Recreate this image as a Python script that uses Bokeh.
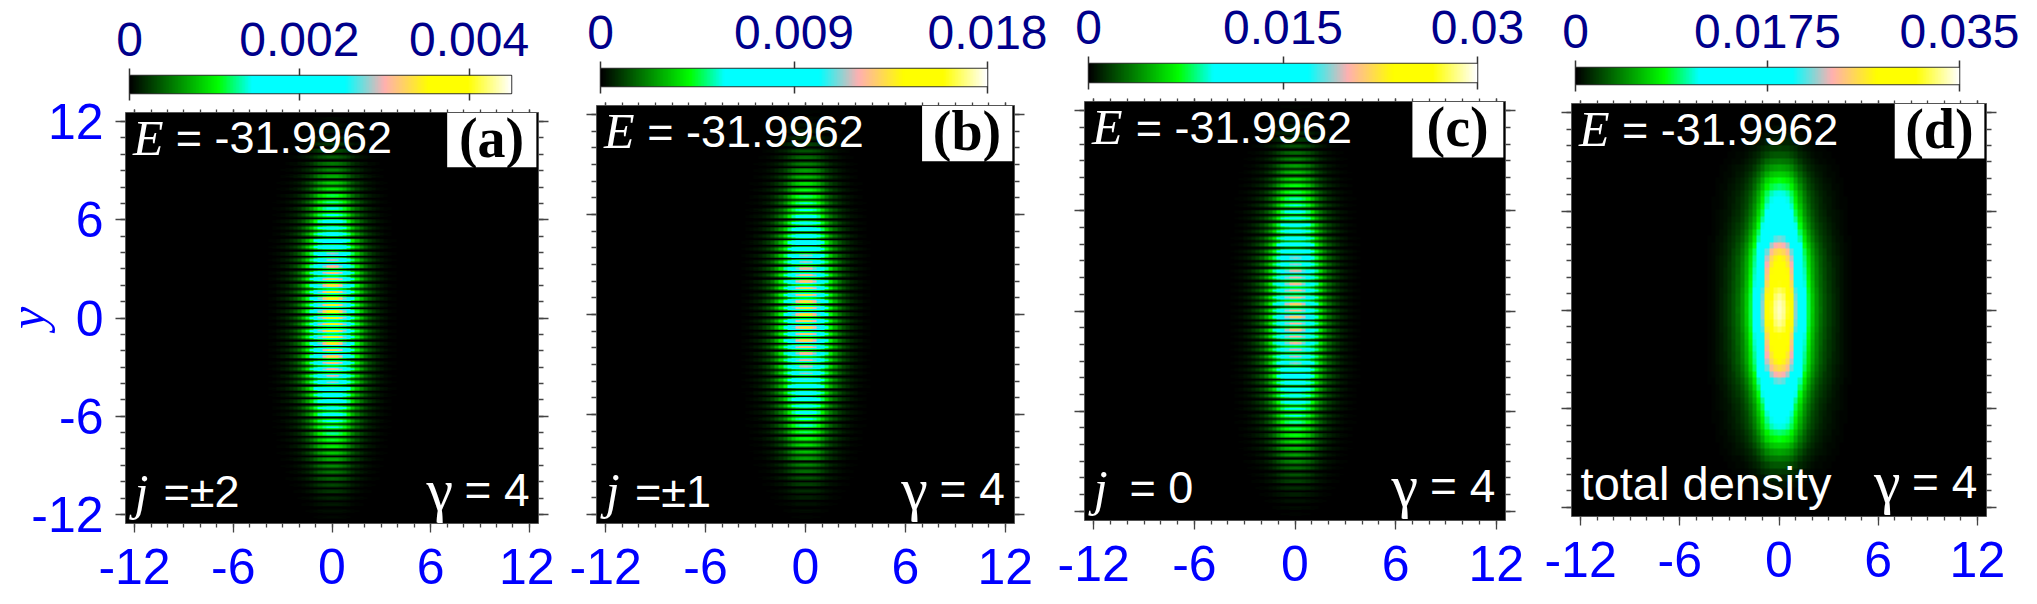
"""Four density panels with stripe patterns and horizontal colour bars on top."""
import numpy as np

from bokeh.core.properties import value
from bokeh.embed import file_html
from bokeh.layouts import column, row
from bokeh.models import CustomLabelingPolicy, FixedTicker, LinearAxis, LinearColorMapper, Range1d
from bokeh.plotting import figure
from bokeh.resources import INLINE

# Peak density of each stripe, from y = 0 outwards (one stripe every 0.3927 in y)
peaks_a = [.00369, .00369, .00365, .0036, .00356, .00347, .00338, .00329, .00315, .00302, .00284,
           .00261, .00239, .00216, .00194, .00176, .00158, .00144, .00131, .00117, .00099, .00086,
           .00072, .00059, .0005, .00041, .00032, .00023, .00016, .00011, .00007, .00004]
peaks_b = [.01404, .01404, .01386, .01368, .0135, .01314, .01278, .01242, .01188, .01134, .01062,
           .0099, .009, .00828, .00756, .00684, .00612, .00558, .00486, .00432, .00378, .00324,
           .0027, .00225, .0018, .00144, .00108, .00081, .00054, .00036, .00022, .00011]
peaks_c = [.0222, .0222, .0219, .0216, .0213, .021, .0204, .0198, .0189, .018, .0168,
           .0156, .0144, .0132, .012, .0108, .0099, .009, .0081, .0072, .0063, .0054,
           .0045, .00375, .003, .0024, .0018, .00135, .0009, .0006, .00036, .00018]
# Total density along x = 0, same y steps
peaks_d = [.03395, .03378, .03325, .03238, .03115, .0301, .0294, .02835, .02748, .0259, .0238,
           .02135, .01925, .01715, .0154, .014, .01295, .0119, .01103, .00945, .00823, .00665,
           .00525, .00385, .0028, .00193, .00123, .0007, .00042, .00021, .00011, .00004]

# Shape of one stripe across its period (8 samples)
stripe_shape = [.3, .68, .95, 1, .95, .68, .3, 0]

# Relative density across x, from x = 0 outwards in steps of 0.25
x_profile_stripes = [1, .98, .9, .78, .6, .43, .31, .22, .15, .105, .075, .05, .035, .022, .014,
                     .008, .004, .002, .001, 0, 0]
x_profile_total = [1, .98, .93, .82, .64, .48, .35, .26, .19, .14, .105, .08, .058, .042, .03,
                   .02, .012, .007, .004, .002, 0]

tags = ["(a)", "(b)", "(c)", "(d)"]
energy = "= -31.9962"
gamma_text = "= 4"
j_texts = ["=\u00b12", "=\u00b11", "= 0", None]
bar_max = [.0045, .018, .03, .035]
bar_ticks = [[0, .002, .004], [0, .009, .018], [0, .015, .03], [0, .0175, .035]]
bar_labels = [["0", "0.002", "0.004"], ["0", "0.009", "0.018"], ["0", "0.015", "0.03"], ["0", "0.0175", "0.035"]]
axis_ticks = [-12, -6, 0, 6, 12]
axis_labels = ["-12", "-6", "0", "6", "12"]
axis_minor = list(range(-12, 13))

# colour map anchors: position on the bar, red, green, blue
cmap_pos = [0, .23, .32, .565, .668, .785, .887, 1]
cmap_r = [0, 0, 0, 0, 255, 255, 255, 255]
cmap_g = [0, 255, 255, 255, 176, 255, 255, 255]
cmap_b = [0, 0, 255, 255, 176, 0, 0, 255]

STEP = 0.3927
LIM = 12.55
SANS = value("Liberation Sans")
SERIF = value("Liberation Serif")
NO_LABELS = CustomLabelingPolicy(code="return []")

# page layout per panel, all in pixels from the page corner
fig_w = [566, 488, 484, 491]
split_h = [104, 97, 93, 95]
overlap = [24, 0, 0, 0]
left_bleed = [12, 0, 0, 0]
main_borders = [(137, 16, 32, 73), (30, 40, 8, 73), (30, 33, 8, 76), (33, 43, 8, 80)]
bar_borders = [(129, 55, 75, 8), (34, 67, 68, 8), (34, 61, 63, 9), (37, 70, 67, 8)]
TOTAL_H = 596

pos = np.linspace(0, 1, 256)
palette = ["#%02x%02x%02x" % (int(r), int(g), int(b)) for r, g, b in zip(
    np.interp(pos, cmap_pos, cmap_r), np.interp(pos, cmap_pos, cmap_g), np.interp(pos, cmap_pos, cmap_b))]


def mirror(half):
    return list(half[::-1]) + list(half[1:])


def density_grid(peaks, profile, striped):
    x_full = [0] * 31 + mirror(profile) + [0] * 31
    if striped:
        y_full = np.outer(mirror(peaks), stripe_shape).ravel()
    else:
        y_full = np.array(mirror(peaks))
    return np.outer(y_full, x_full)


def make_bar(i):
    left, right, top, bottom = bar_borders[i]
    p = figure(width=fig_w[i], height=split_h[i], output_backend="svg", toolbar_location=None, tools="",
               x_range=Range1d(0, bar_max[i]), y_range=Range1d(0, 1), x_axis_location="above", frame_align=False,
               min_border_left=left, min_border_right=right, min_border_top=top, min_border_bottom=bottom)
    mapper = LinearColorMapper(palette=palette, low=0, high=bar_max[i])
    ramp = np.linspace(0, bar_max[i], 256).reshape(1, 256)
    p.image(image=[ramp], x=0, y=0, dw=bar_max[i], dh=1, color_mapper=mapper)
    p.grid.visible = False
    p.yaxis.visible = False
    p.outline_line_color = "#333333"
    p.outline_line_width = 1.5
    ax = p.xaxis[0]
    ax.ticker = FixedTicker(ticks=bar_ticks[i], minor_ticks=[])
    ax.major_label_overrides = dict(zip(bar_ticks[i], bar_labels[i]))
    ax.major_label_text_color = "#00008b"
    ax.major_label_text_font = "Liberation Sans"
    ax.major_label_text_font_size = "48px"
    ax.major_label_standoff = 13
    ax.axis_line_color = None
    ax.major_tick_in = 0
    ax.major_tick_out = 7
    ax.major_tick_line_color = "#333333"
    ax.major_tick_line_width = 1.5
    lower = LinearAxis(ticker=FixedTicker(ticks=bar_ticks[i], minor_ticks=[]), axis_line_color=None,
                       major_tick_in=0, major_tick_out=7, major_tick_line_color="#333333", major_tick_line_width=1.5,
                       major_label_text_font_size="1px", major_label_standoff=0, major_label_policy=NO_LABELS)
    p.add_layout(lower, "below")
    return p


def style_axis(ax, labels, major_out, minor_out, standoff=4):
    ax.ticker = FixedTicker(ticks=axis_ticks, minor_ticks=axis_minor)
    ax.axis_line_color = "#555555"
    ax.major_tick_in = 0
    ax.minor_tick_in = 0
    ax.major_tick_out = major_out
    ax.minor_tick_out = minor_out
    ax.major_tick_line_color = "#444444"
    ax.minor_tick_line_color = "#444444"
    ax.major_tick_line_width = 1.3
    ax.minor_tick_line_width = 1.3
    if labels:
        ax.major_label_overrides = dict(zip(axis_ticks, axis_labels))
        ax.major_label_text_color = "#0000ff"
        ax.major_label_text_font = "Liberation Sans"
        ax.major_label_text_font_size = "50px"
        ax.major_label_standoff = standoff
    else:
        ax.major_label_text_font_size = "1px"
        ax.major_label_standoff = 0
        ax.major_label_policy = NO_LABELS


def make_panel(i, peaks, profile, striped):
    left, right, top, bottom = main_borders[i]
    p = figure(width=fig_w[i] + left_bleed[i], height=TOTAL_H - split_h[i] + overlap[i], output_backend="svg",
               toolbar_location=None, tools="", x_range=Range1d(-LIM, LIM), y_range=Range1d(-LIM, LIM),
               frame_align=False, min_border_left=left, min_border_right=right, min_border_top=top,
               min_border_bottom=bottom, background_fill_color="black", border_fill_color=None,
               margin=(-overlap[i], 0, 0, -left_bleed[i]))
    mapper = LinearColorMapper(palette=palette, low=0, high=bar_max[i])
    grid = density_grid(peaks, profile, striped)
    if striped:
        y0 = -31 * STEP - 3.5 * STEP / 8
    else:
        y0 = -31.5 * STEP
    p.image(image=[grid], x=-12.875, y=y0, dw=25.75, dh=63 * STEP, color_mapper=mapper)
    p.grid.visible = False
    p.outline_line_color = None

    style_axis(p.xaxis[0], True, 9, 4, standoff=16)
    style_axis(p.yaxis[0], i == 0, 10, 5, standoff=12)
    p.yaxis[0].major_label_orientation = "horizontal"
    top_axis = LinearAxis()
    right_axis = LinearAxis()
    style_axis(top_axis, False, 3, 3)
    style_axis(right_axis, False, 10, 5)
    p.add_layout(top_axis, "above")
    p.add_layout(right_axis, "right")

    # white tag box in the upper right corner
    p.quad(left=[7.0], right=[12.42], top=[LIM], bottom=[9.2], fill_color="white", line_color=None)
    p.text(x=[9.7], y=[11.0], text=[tags[i]], text_color="black", text_font=SERIF, text_font_style="bold",
           text_font_size="56px", text_align="center", text_baseline="alphabetic")

    p.text(x=[-12.1], y=[11.0], text=["E"], text_color="white", text_font=SERIF, text_font_style="italic",
           text_font_size="50px", text_baseline="alphabetic")
    p.text(x=[-9.5], y=[11.0], text=[energy], text_color="white", text_font=SANS,
           text_font_size="45px", text_baseline="alphabetic")

    p.text(x=[5.75], y=[-10.48], text=["\u03b3"], text_color="white", text_font=SERIF,
           text_font_size="60px", text_baseline="alphabetic")
    p.text(x=[8.05], y=[-10.48], text=[gamma_text], text_color="white", text_font=SANS,
           text_font_size="46px", text_baseline="alphabetic")

    if j_texts[i] is None:
        p.text(x=[-12.0], y=[-10.54], text=["total density"], text_color="white", text_font=SANS,
               text_font_size="47px", text_baseline="alphabetic")
    else:
        p.text(x=[-12.0], y=[-10.6], text=["j"], text_color="white", text_font=SERIF, text_font_style="italic",
               text_font_size="50px", text_baseline="alphabetic")
        p.text(x=[-9.87 if i == 2 else -10.24], y=[-10.6], text=[j_texts[i]], text_color="white", text_font=SANS,
               text_font_size="45px", text_baseline="alphabetic")
    return p


panels = [make_panel(0, peaks_a, x_profile_stripes, True),
          make_panel(1, peaks_b, x_profile_stripes, True),
          make_panel(2, peaks_c, x_profile_stripes, True),
          make_panel(3, peaks_d, x_profile_total, False)]

y_axis = panels[0].yaxis[0]
y_axis.axis_label = "y"
y_axis.axis_label_text_color = "#0000ff"
y_axis.axis_label_text_font = "Liberation Serif"
y_axis.axis_label_text_font_style = "italic"
y_axis.axis_label_text_font_size = "50px"
y_axis.axis_label_standoff = -27

layout = row(*[column(make_bar(i), panels[i], spacing=0) for i in range(4)], spacing=0)
open("out.html", "w").write(file_html(layout, INLINE))
